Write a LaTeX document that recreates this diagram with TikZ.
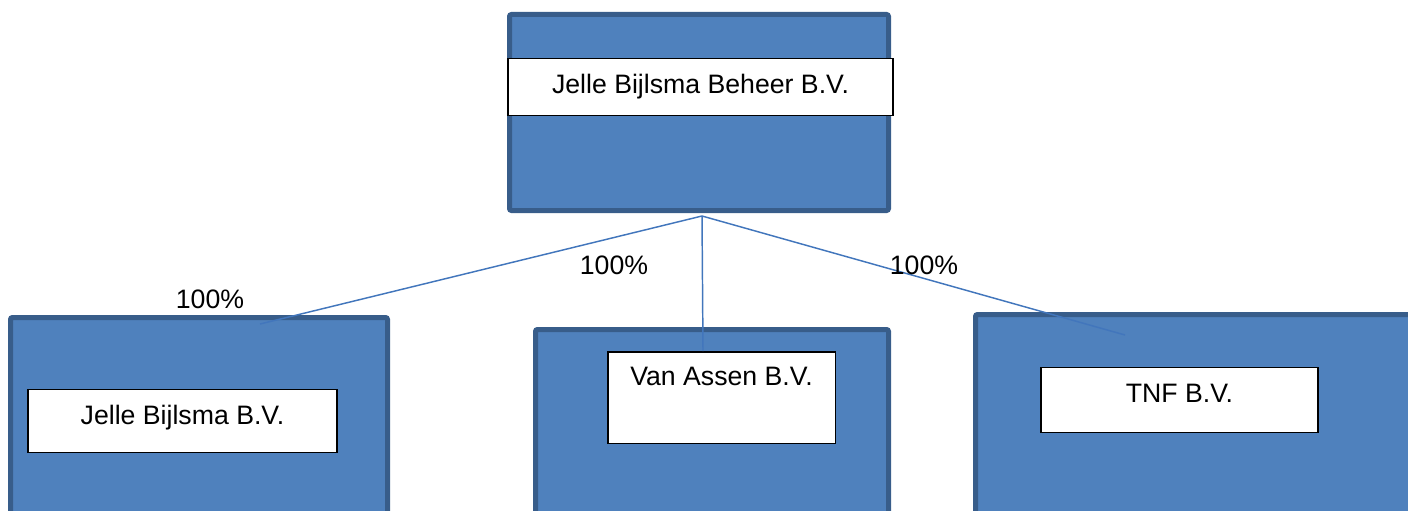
\documentclass[tikz,border=0pt]{standalone}
\usepackage{fontspec}
\setmainfont{Liberation Sans}
\definecolor{boxblue}{RGB}{79,129,189}
\definecolor{boxedge}{RGB}{56,93,138}
\definecolor{lineblue}{RGB}{66,118,188}
\begin{document}
\begin{tikzpicture}[x=0.75pt,y=-0.75pt,
    company/.style={draw=boxedge,fill=boxblue,line width=3.75pt,rounded corners=1.5pt,inner sep=0},
    namebox/.style={draw=black,fill=white,line width=1.1pt,inner sep=0,font=\fontsize{20}{24}\selectfont},
    pct/.style={inner sep=0,font=\fontsize{20}{24}\selectfont}]
            \useasboundingbox (0,0) rectangle (1408,510);
            \clip (0,0) rectangle (1408,510);
            % holding and subsidiaries
            \node[company,minimum width=284.25pt,minimum height=147pt] (beheer) at (699,112.5) {};
            \node[company,minimum width=282.75pt,minimum height=165pt] (bijlsma) at (199,427.5) {};
            \node[company,minimum width=264.75pt,minimum height=156pt] (assen) at (712,433.5) {};
            \node[company,minimum width=346.5pt,minimum height=167.25pt] (tnf) at (1206.5,426) {};
            % names
            \node[namebox,minimum width=289pt,text height=26.4pt,text depth=16pt] (beheername) at (700.5,87) {Jelle Bijlsma Beheer B.V.};
            \node[namebox,minimum width=232pt,text height=26.4pt,text depth=20.5pt] (bijlsmaname) at (182.5,421) {Jelle Bijlsma B.V.};
            \node[namebox,minimum width=170.6pt,text height=25pt,text depth=43.6pt] (assenname) at (721.5,397.5) {Van Assen B.V.};
            \node[namebox,minimum width=208pt,text height=25.7pt,text depth=22.7pt] (tnfname) at (1179.5,400) {TNF B.V.};
            % lines
            \coordinate (hub) at (702,216);
            \coordinate (bijlsmaend) at (260,324);
            \coordinate (assenend) at (703,351);
            \coordinate (tnfend) at (1125,335);
            \draw[lineblue,line width=1.1pt] (hub)--(bijlsmaend);
            \draw[lineblue,line width=1.1pt] (hub)--(assenend);
            \draw[lineblue,line width=1.1pt] (hub)--(tnfend);
            \node[pct] (pctbijlsma) at (210,299) {100\%};
            \node[pct] (pctassen) at (614,265) {100\%};
            \node[pct] (pcttnf) at (924,265) {100\%};
        \end{tikzpicture}
\end{document}
